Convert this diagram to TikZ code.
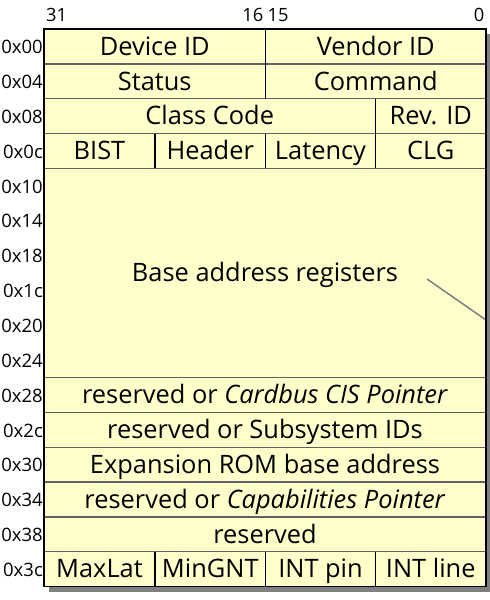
\documentclass[tikz,border=0pt]{standalone}
\usepackage{fontspec}
\setmainfont{Open Sans}
\definecolor{cellbg}{HTML}{FFFFCC}
\definecolor{shadowc}{HTML}{7F7F7F}
\begin{document}
\begin{tikzpicture}[x=1pt,y=-1pt,
  celltext/.style={font=\fontsize{25.4}{25.4}\selectfont, inner sep=0pt, anchor=base},
  addr/.style={font=\fontsize{18.5}{18.5}\selectfont, inner sep=0pt, anchor=base east},
  bitno/.style={font=\fontsize{18.3}{18.3}\selectfont, inner sep=0pt},
  rowline/.style={draw=black!62, line width=1.3pt},
  divline/.style={draw=black, line width=1.3pt}]
\useasboundingbox (0,0) rectangle (490,600);
\def\L{44}\def\R{486}\def\M{265.5}\def\QA{155}\def\QB{375.5}
\def\T{29}\def\H{34.85}
% shadow and body
\fill[shadowc] (49,34) rectangle (491,592);
\fill[cellbg] (\L,\T) rectangle (\R,\T+16*\H);
% row separators
\foreach \i in {1,2,3,4,10,11,12,13,14,15}
  \draw[rowline] (\L,\T+\i*\H) -- (\R,\T+\i*\H);
% vertical dividers
\draw[divline] (\M,\T) -- (\M,\T+2*\H);
\draw[divline] (\QB,\T+2*\H) -- (\QB,\T+3*\H);
\foreach \x in {\QA,\M,\QB}{
  \draw[divline] (\x,\T+3*\H) -- (\x,\T+4*\H);
  \draw[divline] (\x,\T+15*\H) -- (\x,\T+16*\H);
}
% gray diagonal line
\coordinate (d1) at (427,279);
\coordinate (d2) at (\R,320);
\draw[black!50, line width=1.5pt] (d1) -- (d2);
% border
\draw[black, line width=1.4pt] (\L,\T) rectangle (\R,\T+16*\H);
% bit numbers
\node[bitno, anchor=base west] (b31) at (46,21) {31};
\node[bitno, anchor=base east] (b16) at (263.5,21) {16};
\node[bitno, anchor=base west] (b15) at (267.5,21) {15};
\node[bitno, anchor=base east] (b0) at (484.5,21) {0};
% addresses
\foreach \a [count=\i from 0] in {00,04,08,0c,10,14,18,1c,20,24,28,2c,30,34,38,3c}
  \node[addr] (a\i) at (43,\T+\i*\H+\H/2+7.3) {0x\a};
% cell texts
\newcommand\rowy[1]{\T+#1*\H+\H/2+8.8}
\node[celltext] (devid) at ({(\L+\M)/2},\rowy{0}) {Device ID};
\node[celltext] (venid) at ({(\M+\R)/2},\rowy{0}) {Vendor ID};
\node[celltext] (status) at ({(\L+\M)/2},\rowy{1}) {Status};
\node[celltext] (command) at ({(\M+\R)/2},\rowy{1}) {Command};
\node[celltext] (class) at ({(\L+\QB)/2},\rowy{2}) {Class Code};
\node[celltext] (rev) at ({(\QB+\R)/2},\rowy{2}) {Rev. ID};
\node[celltext] (bist) at ({(\L+\QA)/2},\rowy{3}) {BIST};
\node[celltext] (header) at ({(\QA+\M)/2},\rowy{3}) {Header};
\node[celltext] (latency) at ({(\M+\QB)/2},\rowy{3}) {Latency};
\node[celltext] (clg) at ({(\QB+\R)/2},\rowy{3}) {CLG};
\node[celltext] (bar) at ({(\L+\R)/2},{\T+7*\H+8.8}) {Base address registers};
\node[celltext] (cis) at ({(\L+\R)/2},\rowy{10}) {reserved or \textit{Cardbus CIS Pointer}};
\node[celltext] (subsys) at ({(\L+\R)/2},\rowy{11}) {reserved or Subsystem IDs};
\node[celltext] (rom) at ({(\L+\R)/2},\rowy{12}) {Expansion ROM base address};
\node[celltext] (cap) at ({(\L+\R)/2},\rowy{13}) {reserved or \textit{Capabilities Pointer}};
\node[celltext] (res) at ({(\L+\R)/2},\rowy{14}) {reserved};
\node[celltext] (maxlat) at ({(\L+\QA)/2},\rowy{15}) {MaxLat};
\node[celltext] (mingnt) at ({(\QA+\M)/2},\rowy{15}) {MinGNT};
\node[celltext] (intpin) at ({(\M+\QB)/2},\rowy{15}) {INT pin};
\node[celltext] (intline) at ({(\QB+\R)/2},\rowy{15}) {INT line};
\end{tikzpicture}
\end{document}
